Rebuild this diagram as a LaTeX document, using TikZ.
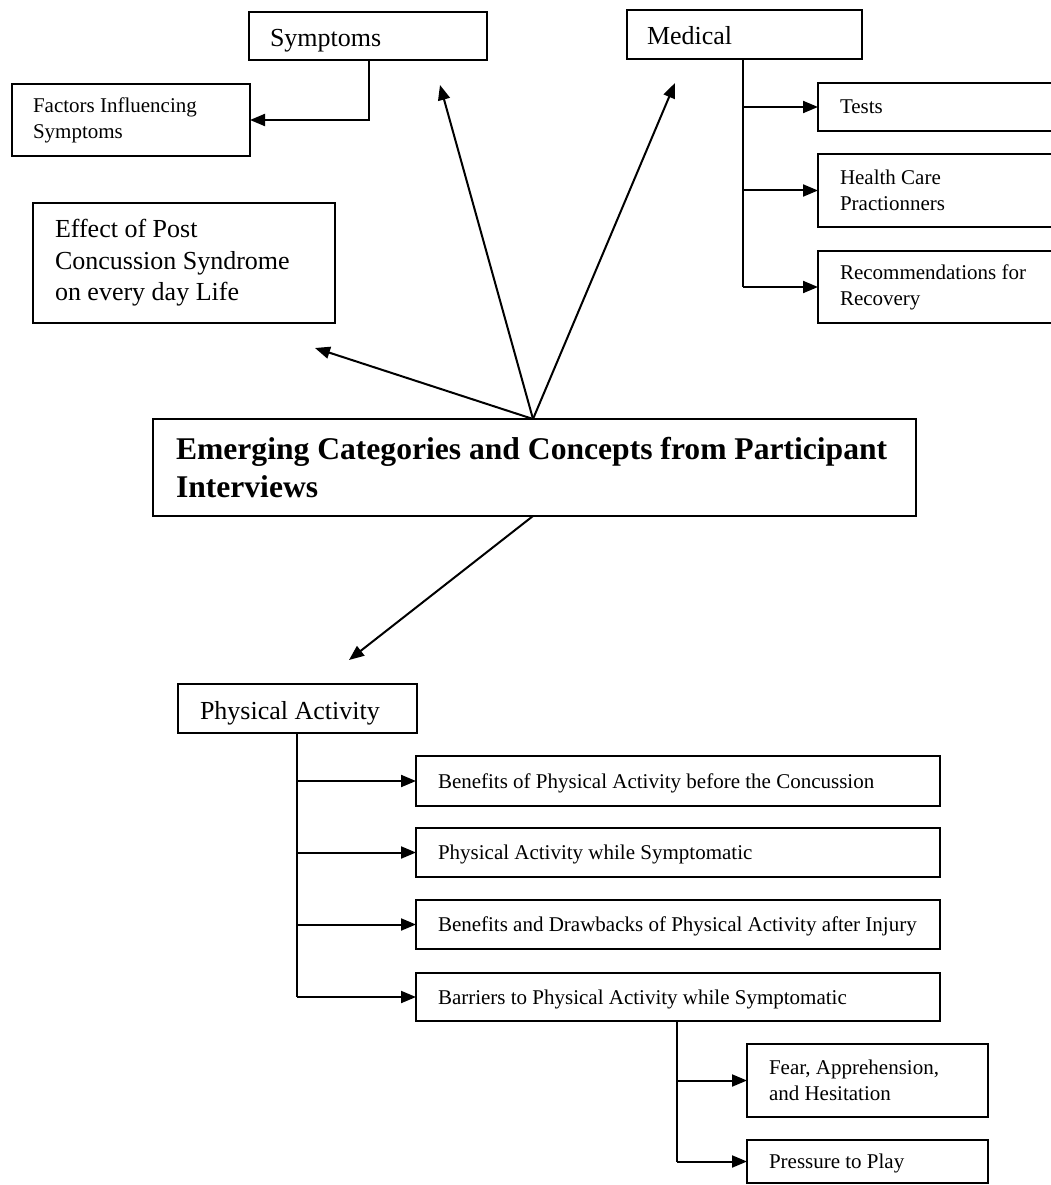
\documentclass[tikz,border=0pt]{standalone}
\usepackage{fontspec}
\setmainfont{Liberation Serif}
\usetikzlibrary{arrows.meta}
\newcommand\titlefont{\fontsize{31.6}{38}\selectfont\bfseries}
\newcommand\midfont{\fontsize{26}{31.5}\selectfont}
\newcommand\smallfont{\fontsize{21}{26}\selectfont}

\begin{document}
\begin{tikzpicture}[x=1pt,y=-1pt,
  box/.style={draw, line width=2pt, anchor=north west, inner xsep=0pt,
    inner ysep=0pt, outer sep=0pt, align=left},
  pad/.style={execute at begin node={\leftskip=#1pt\relax
    \rightskip=0pt plus 1fil\relax\spaceskip=0pt\relax\xspaceskip=0pt\relax}},
  midline/.style={text height=27pt, text depth=6pt},
  smallline/.style={text height=19pt, text depth=5pt},
  conn/.style={line width=2pt},
  arr/.style={conn, -{Triangle[length=15pt,width=12pt]}}]

\useasboundingbox (0,0) rectangle (1051,1185);
\clip (0,0) rectangle (1051,1185);

% central category box
\node[box, pad=23, font=\titlefont, text width=763, minimum height=97]
  (main) at (153,419) {Emerging Categories and Concepts from Participant\\Interviews};

% symptoms branch
\node[box, pad=21, font=\midfont, midline, text width=238, minimum height=48]
  (sym) at (249,12) {Symptoms};
\node[box, pad=21, font=\smallfont, text width=238, minimum height=72]
  (fac) at (12,84) {Factors Influencing\\Symptoms};

% everyday life
\node[box, pad=22, font=\midfont, text width=302, minimum height=120]
  (eff) at (33,203) {Effect of Post\\Concussion Syndrome\\on every day Life};

% medical branch
\node[box, pad=20, font=\midfont, midline, text width=235, minimum height=49]
  (med) at (627,10) {Medical};
\node[box, pad=22, font=\smallfont, smallline, text width=242, minimum height=48]
  (tests) at (818,83) {Tests};
\node[box, pad=22, font=\smallfont, text width=242, minimum height=73]
  (hcp) at (818,154) {Health Care\\Practionners};
\node[box, pad=22, font=\smallfont, text width=242, minimum height=72]
  (rec) at (818,251) {Recommendations for\\Recovery};

% physical activity branch
\node[box, pad=22, font=\midfont, midline, text height=28pt, text width=239, minimum height=49]
  (pa) at (178,684) {Physical Activity};
\node[box, pad=22, font=\smallfont, smallline, text width=524, minimum height=50]
  (pa1) at (416,756) {Benefits of Physical Activity before the Concussion};
\node[box, pad=22, font=\smallfont, smallline, text width=524, minimum height=49]
  (pa2) at (416,828) {Physical Activity while Symptomatic};
\node[box, pad=22, font=\smallfont, smallline, text width=524, minimum height=49]
  (pa3) at (416,900) {Benefits and Drawbacks of Physical Activity after Injury};
\node[box, pad=22, font=\smallfont, smallline, text width=524, minimum height=48]
  (pa4) at (416,973) {Barriers to Physical Activity while Symptomatic};
\node[box, pad=22, font=\smallfont, text width=241, minimum height=73]
  (fear) at (747,1044) {Fear, Apprehension,\\and Hesitation};
\node[box, pad=22, font=\smallfont, smallline, text width=241, minimum height=43]
  (press) at (747,1140) {Pressure to Play};

% arrows radiating from the central box
\coordinate (hub) at (533,0 |- main.north);
\coordinate (hubs) at (533,0 |- main.south);
\coordinate (toeff) at (315,348);
\coordinate (tosym) at (440,85);
\coordinate (tomed) at (675,83);
\coordinate (topa) at (349,660);
\draw[arr] (hub) -- (toeff);
\draw[arr] (hub) -- (tosym);
\draw[arr] (hub) -- (tomed);
\draw[arr] (hubs) -- (topa);

% symptoms sub-branch
\draw[arr] (369,0 |- sym.south) |- (fac.east);

% medical sub-branches
\draw[conn] (743,0 |- med.south) -- (743,0 |- rec.west);
\draw[arr] (743,0 |- tests.west) -- (tests.west);
\draw[arr] (743,0 |- hcp.west) -- (hcp.west);
\draw[arr] (743,0 |- rec.west) -- (rec.west);

% physical activity sub-branches
\draw[conn] (297,0 |- pa.south) -- (297,0 |- pa4.west);
\draw[arr] (297,0 |- pa1.west) -- (pa1.west);
\draw[arr] (297,0 |- pa2.west) -- (pa2.west);
\draw[arr] (297,0 |- pa3.west) -- (pa3.west);
\draw[arr] (297,0 |- pa4.west) -- (pa4.west);

% barriers sub-branches
\draw[conn] (677,0 |- pa4.south) -- (677,0 |- press.west);
\draw[arr] (677,0 |- fear.west) -- (fear.west);
\draw[arr] (677,0 |- press.west) -- (press.west);
\end{tikzpicture}
\end{document}
